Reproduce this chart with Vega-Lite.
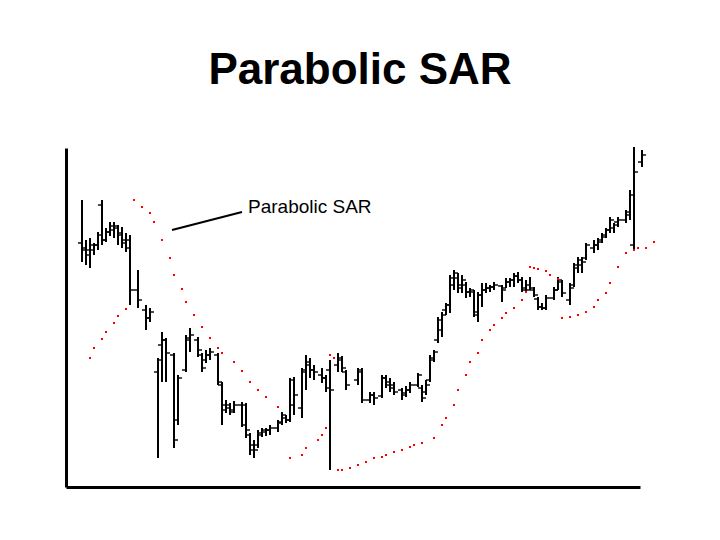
{
  "$schema": "https://vega.github.io/schema/vega-lite/v6.json",
  "width": 574,
  "height": 339,
  "autosize": {"type": "none"},
  "padding": {"left": 66, "top": 148, "right": 80, "bottom": 53},
  "background": "white",
  "config": {
    "view": {"stroke": null},
    "axis": {"domainColor": "black", "domainWidth": 3, "ticks": false, "labels": false, "grid": false}
  },
  "title": {"text": "Parabolic SAR", "font": "Liberation Sans", "fontSize": 44, "fontWeight": "bold", "color": "black", "anchor": "middle", "frame": "group", "offset": 53, "dx": 7},
  "datasets": {
    "bars": [
      {"d":4,"h":287,"l":225,"o":244,"c":237},
      {"d":5,"h":247,"l":222,"o":239,"c":232},
      {"d":6,"h":249,"l":219,"o":237,"c":242},
      {"d":7,"h":244,"l":232,"o":237,"c":242},
      {"d":8,"h":255,"l":237,"o":242,"c":252},
      {"d":9,"h":287,"l":242,"o":282,"c":247},
      {"d":10,"h":259,"l":245,"o":247,"c":255},
      {"d":11,"h":265,"l":251,"o":255,"c":261},
      {"d":12,"h":265,"l":249,"o":257,"c":261},
      {"d":13,"h":262,"l":242,"o":259,"c":252},
      {"d":14,"h":260,"l":239,"o":254,"c":244},
      {"d":15,"h":254,"l":235,"o":247,"c":239},
      {"d":16,"h":252,"l":182,"o":247,"c":197},
      {"d":18,"h":217,"l":179,"o":197,"c":187},
      {"d":20,"h":182,"l":157,"o":177,"c":169},
      {"d":21,"h":179,"l":165,"o":169,"c":175},
      {"d":23,"h":129,"l":29,"o":115,"c":127},
      {"d":24,"h":155,"l":105,"o":142,"c":147},
      {"d":25,"h":149,"l":105,"o":147,"c":134},
      {"d":27,"h":134,"l":39,"o":132,"c":47},
      {"d":28,"h":112,"l":62,"o":67,"c":109},
      {"d":30,"h":152,"l":115,"o":117,"c":149},
      {"d":31,"h":159,"l":135,"o":147,"c":152},
      {"d":33,"h":150,"l":130,"o":147,"c":137},
      {"d":34,"h":134,"l":115,"o":132,"c":119},
      {"d":35,"h":137,"l":124,"o":127,"c":132},
      {"d":36,"h":139,"l":127,"o":132,"c":135},
      {"d":38,"h":134,"l":102,"o":132,"c":105},
      {"d":39,"h":105,"l":62,"o":102,"c":82},
      {"d":40,"h":87,"l":74,"o":77,"c":82},
      {"d":41,"h":84,"l":72,"o":79,"c":75},
      {"d":42,"h":86,"l":74,"o":77,"c":82},
      {"d":44,"h":85,"l":60,"o":82,"c":62},
      {"d":45,"h":84,"l":49,"o":82,"c":57},
      {"d":46,"h":54,"l":32,"o":52,"c":37},
      {"d":47,"h":47,"l":29,"o":42,"c":37},
      {"d":48,"h":57,"l":39,"o":42,"c":52},
      {"d":49,"h":59,"l":50,"o":54,"c":57},
      {"d":50,"h":59,"l":51,"o":55,"c":57},
      {"d":51,"h":62,"l":52,"o":57,"c":59},
      {"d":53,"h":67,"l":55,"o":59,"c":64},
      {"d":54,"h":75,"l":62,"o":65,"c":72},
      {"d":55,"h":72,"l":64,"o":69,"c":67},
      {"d":56,"h":109,"l":65,"o":67,"c":107},
      {"d":57,"h":110,"l":72,"o":82,"c":92},
      {"d":59,"h":119,"l":69,"o":79,"c":115},
      {"d":60,"h":132,"l":97,"o":117,"c":125},
      {"d":61,"h":129,"l":109,"o":122,"c":117},
      {"d":62,"h":122,"l":107,"o":117,"c":115},
      {"d":64,"h":119,"l":104,"o":112,"c":109},
      {"d":65,"h":112,"l":95,"o":109,"c":99},
      {"d":66,"h":127,"l":17,"o":117,"c":97},
      {"d":68,"h":134,"l":115,"o":122,"c":129},
      {"d":69,"h":131,"l":115,"o":127,"c":119},
      {"d":70,"h":117,"l":97,"o":115,"c":102},
      {"d":73,"h":119,"l":102,"o":107,"c":115},
      {"d":74,"h":119,"l":84,"o":117,"c":87},
      {"d":76,"h":95,"l":84,"o":87,"c":92},
      {"d":77,"h":95,"l":82,"o":92,"c":89},
      {"d":79,"h":112,"l":89,"o":91,"c":109},
      {"d":80,"h":112,"l":99,"o":109,"c":102},
      {"d":81,"h":109,"l":95,"o":105,"c":99},
      {"d":82,"h":105,"l":92,"o":102,"c":95},
      {"d":84,"h":99,"l":87,"o":97,"c":92},
      {"d":85,"h":101,"l":90,"o":94,"c":97},
      {"d":86,"h":105,"l":94,"o":97,"c":102},
      {"d":88,"h":114,"l":100,"o":102,"c":112},
      {"d":89,"h":102,"l":85,"o":99,"c":89},
      {"d":90,"h":107,"l":92,"o":95,"c":102},
      {"d":91,"h":132,"l":105,"o":107,"c":127},
      {"d":92,"h":137,"l":125,"o":129,"c":135},
      {"d":93,"h":170,"l":144,"o":147,"c":167},
      {"d":94,"h":175,"l":150,"o":157,"c":172},
      {"d":95,"h":184,"l":172,"o":177,"c":182},
      {"d":96,"h":212,"l":174,"o":182,"c":209},
      {"d":97,"h":217,"l":197,"o":202,"c":214},
      {"d":98,"h":214,"l":194,"o":209,"c":199},
      {"d":99,"h":212,"l":194,"o":202,"c":207},
      {"d":100,"h":205,"l":189,"o":202,"c":195},
      {"d":101,"h":199,"l":190,"o":195,"c":197},
      {"d":102,"h":197,"l":170,"o":195,"c":175},
      {"d":103,"h":195,"l":165,"o":172,"c":192},
      {"d":104,"h":204,"l":180,"o":192,"c":197},
      {"d":105,"h":204,"l":194,"o":197,"c":199},
      {"d":106,"h":202,"l":195,"o":199,"c":200},
      {"d":107,"h":205,"l":197,"o":200,"c":202},
      {"d":109,"h":202,"l":185,"o":201,"c":197},
      {"d":110,"h":209,"l":199,"o":199,"c":205},
      {"d":111,"h":209,"l":200,"o":205,"c":207},
      {"d":112,"h":214,"l":200,"o":207,"c":211},
      {"d":113,"h":215,"l":204,"o":211,"c":207},
      {"d":114,"h":210,"l":195,"o":207,"c":197},
      {"d":115,"h":207,"l":194,"o":199,"c":197},
      {"d":116,"h":210,"l":197,"o":202,"c":199},
      {"d":117,"h":200,"l":190,"o":197,"c":192},
      {"d":118,"h":190,"l":177,"o":188,"c":180},
      {"d":119,"h":184,"l":177,"o":180,"c":179},
      {"d":120,"h":192,"l":177,"o":179,"c":189},
      {"d":122,"h":200,"l":187,"o":189,"c":197},
      {"d":123,"h":210,"l":197,"o":197,"c":207},
      {"d":124,"h":207,"l":190,"o":205,"c":194},
      {"d":126,"h":204,"l":182,"o":187,"c":199},
      {"d":127,"h":224,"l":200,"o":202,"c":222},
      {"d":128,"h":230,"l":214,"o":219,"c":227},
      {"d":129,"h":230,"l":214,"o":222,"c":225},
      {"d":130,"h":244,"l":227,"o":229,"c":242},
      {"d":132,"h":247,"l":234,"o":239,"c":242},
      {"d":133,"h":249,"l":237,"o":242,"c":245},
      {"d":134,"h":254,"l":244,"o":247,"c":250},
      {"d":135,"h":259,"l":249,"o":252,"c":257},
      {"d":136,"h":270,"l":254,"o":257,"c":267},
      {"d":137,"h":264,"l":254,"o":259,"c":262},
      {"d":138,"h":270,"l":260,"o":265,"c":267},
      {"d":140,"h":277,"l":264,"o":267,"c":275},
      {"d":141,"h":297,"l":267,"o":272,"c":292},
      {"d":142,"h":340,"l":237,"o":242,"c":315},
      {"d":144,"h":337,"l":320,"o":325,"c":332}
    ],
    "sar": [
      {"d":6,"s":129},{"d":7,"s":139},{"d":9,"s":148},{"d":10,"s":155},{"d":12,"s":164},{"d":13,"s":171},{"d":15,"s":178},
      {"d":17,"s":287},{"d":19,"s":280},{"d":21,"s":274},{"d":22,"s":265},{"d":24,"s":247},{"d":26,"s":229},{"d":27,"s":212},{"d":29,"s":198},{"d":30,"s":185},{"d":32,"s":172},{"d":34,"s":160},{"d":36,"s":149},{"d":38,"s":139},{"d":39,"s":134},{"d":42,"s":125},{"d":44,"s":116},{"d":46,"s":105},{"d":48,"s":97},{"d":50,"s":90},{"d":53,"s":80},
      {"d":56,"s":29},{"d":59,"s":32},{"d":60,"s":39},{"d":63,"s":47},{"d":64,"s":52},{"d":65,"s":59},
      {"d":66,"s":132},{"d":67,"s":129},
      {"d":68,"s":17},{"d":69,"s":17},{"d":71,"s":19},{"d":73,"s":22},{"d":75,"s":25},{"d":77,"s":29},{"d":79,"s":30},{"d":80,"s":32},{"d":82,"s":35},{"d":84,"s":37},{"d":86,"s":40},{"d":87,"s":42},{"d":89,"s":44},{"d":92,"s":49},{"d":94,"s":62},{"d":95,"s":69},{"d":97,"s":82},{"d":98,"s":97},{"d":100,"s":112},{"d":101,"s":125},{"d":103,"s":134},{"d":104,"s":147},{"d":106,"s":157},{"d":107,"s":162},{"d":109,"s":169},{"d":110,"s":174},{"d":112,"s":179},{"d":114,"s":187},{"d":115,"s":195},
      {"d":116,"s":220},{"d":117,"s":219},{"d":118,"s":218},{"d":120,"s":216},{"d":121,"s":212},{"d":123,"s":208},
      {"d":124,"s":169},{"d":126,"s":170},{"d":128,"s":172},{"d":130,"s":175},{"d":132,"s":180},{"d":133,"s":187},{"d":135,"s":194},{"d":136,"s":204},{"d":138,"s":220},{"d":140,"s":234},{"d":142,"s":237},{"d":143,"s":239},{"d":145,"s":239},{"d":147,"s":245}
    ],
    "note": [
      {"x1": 26.5, "y1": 257, "x2": 44, "y2": 275, "tx": 45.5, "ty": 274, "label": "Parabolic SAR"}
    ]
  },
  "layer": [
    {
      "data": {"name": "bars"},
      "mark": {"type": "rule", "color": "black", "strokeWidth": 2},
      "encoding": {
        "x": {"field": "d", "type": "quantitative", "scale": {"domain": [0, 143.5], "nice": false, "zero": false}, "axis": {"title": null}},
        "y": {"field": "h", "type": "quantitative", "scale": {"domain": [0, 339], "nice": false, "zero": false}, "axis": {"title": null}},
        "y2": {"field": "l"}
      }
    },
    {
      "data": {"name": "bars"},
      "mark": {"type": "tick", "orient": "horizontal", "color": "black", "thickness": 2, "size": 4, "xOffset": -2},
      "encoding": {
        "x": {"field": "d", "type": "quantitative", "scale": {"domain": [0, 143.5], "nice": false, "zero": false}, "axis": {"title": null}},
        "y": {"field": "o", "type": "quantitative", "scale": {"domain": [0, 339], "nice": false, "zero": false}, "axis": {"title": null}}
      }
    },
    {
      "data": {"name": "bars"},
      "mark": {"type": "tick", "orient": "horizontal", "color": "black", "thickness": 2, "size": 4, "xOffset": 2},
      "encoding": {
        "x": {"field": "d", "type": "quantitative", "scale": {"domain": [0, 143.5], "nice": false, "zero": false}, "axis": {"title": null}},
        "y": {"field": "c", "type": "quantitative", "scale": {"domain": [0, 339], "nice": false, "zero": false}, "axis": {"title": null}}
      }
    },
    {
      "data": {"name": "sar"},
      "mark": {"type": "square", "color": "#ff0000", "size": 4, "opacity": 1},
      "encoding": {
        "x": {"field": "d", "type": "quantitative", "scale": {"domain": [0, 143.5], "nice": false, "zero": false}, "axis": {"title": null}},
        "y": {"field": "s", "type": "quantitative", "scale": {"domain": [0, 339], "nice": false, "zero": false}, "axis": {"title": null}}
      }
    },
    {
      "data": {"name": "note"},
      "mark": {"type": "rule", "color": "black", "strokeWidth": 2},
      "encoding": {
        "x": {"field": "x1", "type": "quantitative", "scale": {"domain": [0, 143.5], "nice": false, "zero": false}, "axis": {"title": null}},
        "y": {"field": "y1", "type": "quantitative", "scale": {"domain": [0, 339], "nice": false, "zero": false}, "axis": {"title": null}},
        "x2": {"field": "x2"},
        "y2": {"field": "y2"}
      }
    },
    {
      "data": {"name": "note"},
      "mark": {"type": "text", "font": "Liberation Sans", "fontSize": 19, "align": "left", "baseline": "alphabetic", "color": "black"},
      "encoding": {
        "x": {"field": "tx", "type": "quantitative", "scale": {"domain": [0, 143.5], "nice": false, "zero": false}, "axis": {"title": null}},
        "y": {"field": "ty", "type": "quantitative", "scale": {"domain": [0, 339], "nice": false, "zero": false}, "axis": {"title": null}},
        "text": {"field": "label"}
      }
    }
  ]
}
